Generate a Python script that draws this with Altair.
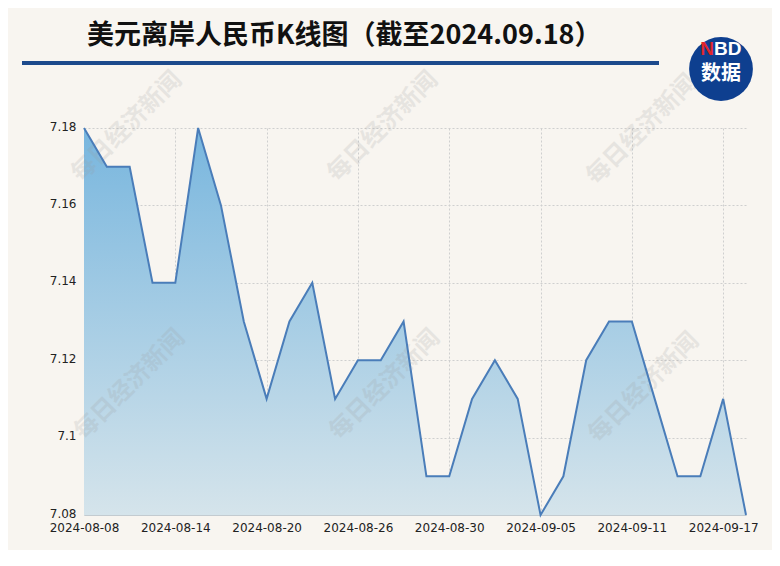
import altair as alt
import pandas as pd

dates = ["2024-08-08", "2024-08-09", "2024-08-12", "2024-08-13", "2024-08-14",
         "2024-08-15", "2024-08-16", "2024-08-19", "2024-08-20", "2024-08-21",
         "2024-08-22", "2024-08-23", "2024-08-26", "2024-08-27", "2024-08-28",
         "2024-08-29", "2024-08-30", "2024-09-02", "2024-09-03", "2024-09-04",
         "2024-09-05", "2024-09-06", "2024-09-09", "2024-09-10", "2024-09-11",
         "2024-09-12", "2024-09-13", "2024-09-16", "2024-09-17", "2024-09-18"]
values = [7.18, 7.17, 7.17, 7.14, 7.14, 7.18, 7.16, 7.13, 7.11, 7.13,
          7.14, 7.11, 7.12, 7.12, 7.13, 7.09, 7.09, 7.11, 7.12, 7.11,
          7.08, 7.09, 7.12, 7.13, 7.13, 7.11, 7.09, 7.09, 7.11, 7.08]
x_ticks = ["2024-08-08", "2024-08-14", "2024-08-20", "2024-08-26",
           "2024-08-30", "2024-09-05", "2024-09-11", "2024-09-17"]
y_ticks = [7.08, 7.1, 7.12, 7.14, 7.16, 7.18]
y_min, y_max = 7.08, 7.18
title_text = "美元离岸人民币K线图（截至2024.09.18）"
watermark_text = "每日经济新闻"

df = pd.DataFrame({"date": dates, "value": values})
one = pd.DataFrame({"k": [0]})

FONT = "DejaVu Sans"

x_enc = alt.X("date:O", sort=None, title=None,
              scale=alt.Scale(type="point", padding=0),
              axis=alt.Axis(values=x_ticks, labelAngle=0, ticks=False, tickSize=0,
                            labelPadding=7, domain=True, domainColor="#c3cbd0",
                            grid=True, gridDash=[2, 2], gridColor="#cfcfcf",
                            labelFont=FONT, labelFontSize=12, labelColor="#222222"))
y_enc = alt.Y("value:Q", title=None,
              scale=alt.Scale(domain=[y_min, y_max], zero=False, nice=False),
              axis=alt.Axis(values=y_ticks, format=".3~r", ticks=False, tickSize=0,
                            domain=False, labelPadding=8, labelOffset=-2, grid=True,
                            gridDash=[2, 2], gridColor="#cfcfcf", labelFont=FONT,
                            labelFontSize=12, labelColor="#222222"))

base = alt.Chart(df)
area = base.mark_area(
    color=alt.Gradient(gradient="linear",
                       stops=[alt.GradientStop(color="#78b6de", offset=0),
                              alt.GradientStop(color="#d5e4eb", offset=1)],
                       x1=1, x2=1, y1=0, y2=1)
).encode(x=x_enc, y=y_enc, y2=alt.datum(y_min))
line = base.mark_line(color="#4a7db9", strokeWidth=2).encode(x="date:O", y="value:Q")

wm_pos = [(43, -1), (299, -1), (558, 2), (46, 257), (301, 257), (560, 260)]
watermarks = []
for (px, py) in wm_pos:
    watermarks.append(
        alt.Chart(one).mark_text(text=watermark_text, angle=315, font="Noto Sans CJK SC",
                                 fontWeight="bold", fontSize=24, color="#9a9a9a",
                                 opacity=0.18, align="center", baseline="middle")
        .encode(x=alt.value(px), y=alt.value(py))
    )

title = alt.Chart(one).mark_text(text=title_text, font="Noto Sans CJK SC", fontWeight="bold",
                                 fontSize=27, color="#111111", align="left",
                                 baseline="middle").encode(x=alt.value(3), y=alt.value(-92))
bar = alt.Chart(one).mark_rule(color="#1d4a8c", strokeWidth=4).encode(
    x=alt.value(-62), x2=alt.value(575), y=alt.value(-65))
circle = alt.Chart(one).mark_point(shape="circle", filled=True, size=4070, color="#0e3f8f",
                                   opacity=1).encode(x=alt.value(637), y=alt.value(-59))
n_red = alt.Chart(one).mark_text(text="N", font="Liberation Sans", fontWeight="bold",
                                 fontSize=19, color="#e0262b", align="right",
                                 baseline="middle").encode(x=alt.value(630), y=alt.value(-79))
bd = alt.Chart(one).mark_text(text="BD", font="Liberation Sans", fontWeight="bold",
                              fontSize=19, color="#ffffff", align="left",
                              baseline="middle").encode(x=alt.value(630), y=alt.value(-79))
shuju = alt.Chart(one).mark_text(text="数据", font="Noto Sans CJK SC", fontWeight="bold",
                                 fontSize=20, color="#ffffff", align="center",
                                 baseline="middle").encode(x=alt.value(637), y=alt.value(-54))

chart = alt.layer(area, *watermarks, line, title, bar, circle, n_red, bd, shuju).properties(
    width=662, height=387,
    padding={"left": 76, "top": 120, "right": 26, "bottom": 35},
    autosize=alt.AutoSizeParams(type="none"),
    background="#f8f5f0",
).configure_view(stroke=None)

chart.save("out.html", embed_options={"renderer": "svg", "actions": False})
